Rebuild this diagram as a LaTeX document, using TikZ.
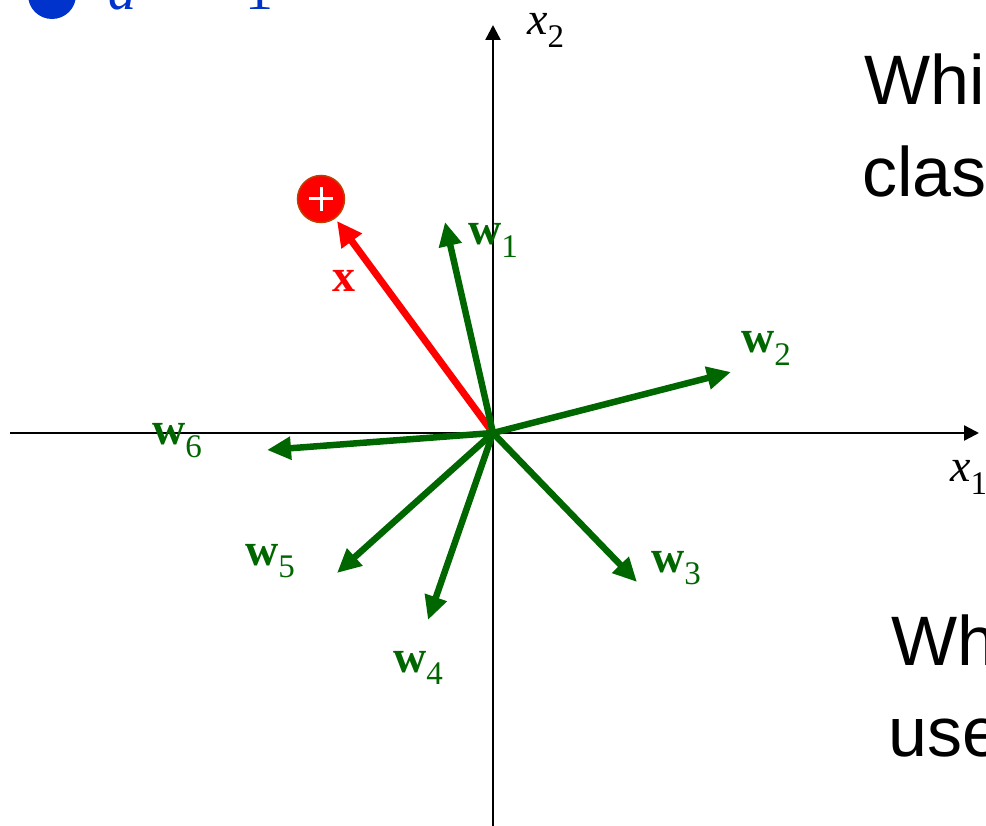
\documentclass[tikz,border=0pt]{standalone}
\usepackage{fontspec}
\setmainfont{Liberation Serif}
\newfontfamily\arialf{Liberation Sans}
\usetikzlibrary{arrows.meta}
\definecolor{vgreen}{RGB}{0,102,0}
\definecolor{vblue}{RGB}{0,51,204}
\definecolor{cborder}{RGB}{192,64,0}
\newcommand{\lsub}[1]{\raisebox{-0.27em}{\fontsize{33}{33}\selectfont #1}}
\begin{document}
\begin{tikzpicture}[x=1pt,y=-1pt,
  axis/.style={line width=2.4pt,black,-{Triangle[length=15pt,width=15pt]}},
  vec/.style={line width=6.5pt,vgreen,-{Triangle[length=24pt,width=22pt]}},
  redvec/.style={line width=7pt,red,-{Triangle[length=25pt,width=24pt]}},
  lab/.style={anchor=base west,inner sep=0pt,font=\fontsize{46}{46}\selectfont},
  glab/.style={lab,text=vgreen},
  big/.style={anchor=base west,inner sep=0pt,font=\arialf\fontsize{70}{84}\selectfont}]
\useasboundingbox (0,0) rectangle (986,826);
\clip (0,0) rectangle (986,826);
% top line
\fill[vblue] (52,-5) circle (24);
\node[anchor=base west,inner sep=0pt,text=vblue,font=\fontsize{56}{56}\selectfont] (aeq) at (108,10) {\textit{a} =};
\node[anchor=base east,inner sep=0pt,text=vblue,font=\fontsize{56}{56}\selectfont] (aone) at (274,10) {−1};
% axes
\coordinate (O) at (493,433);
\coordinate (xl) at (10,433);
\coordinate (xr) at (979,433);
\coordinate (yb) at (493,830);
\coordinate (yt) at (493,25);
\draw[axis] (xl) -- (xr);
\draw[axis] (yb) -- (yt);
\node[lab] (x2) at (527,35) {\textit{x}\lsub{2}};
\node[lab] (x1) at (950,482) {\textit{x}\lsub{1}};
% red vector
\coordinate (tx) at (337,221);
\draw[redvec] (O) -- (tx);
\node[lab,text=red] (xlab) at (332,292) {\textbf{x}};
\node[circle,fill=red,draw=cborder,line width=1.5pt,minimum size=47pt,inner sep=0pt] (plus) at (321,199) {};
\draw[white,line width=3pt] ([xshift=-12pt]plus.center) -- ([xshift=12pt]plus.center);
\draw[white,line width=3pt] ([yshift=-12pt]plus.center) -- ([yshift=12pt]plus.center);
% green vectors
\coordinate (t1) at (445,222);
\coordinate (t2) at (731,372);
\coordinate (t3) at (637,582);
\coordinate (t4) at (428,620);
\coordinate (t5) at (337,573);
\coordinate (t6) at (267,450);
\foreach \i in {1,...,6} {\draw[vec] (O) -- (t\i);}
\node[glab] (w1) at (468,245) {\textbf{w}\lsub{1}};
\node[glab] (w2) at (741,353) {\textbf{w}\lsub{2}};
\node[glab] (w3) at (651,572) {\textbf{w}\lsub{3}};
\node[glab] (w4) at (393,672) {\textbf{w}\lsub{4}};
\node[glab] (w5) at (245,565) {\textbf{w}\lsub{5}};
\node[glab] (w6) at (152,445) {\textbf{w}\lsub{6}};
% right text
\node[big] (t1a) at (864,105) {Whi};
\node[big] (t1b) at (862,197) {clas};
\node[big] (t2a) at (891,665) {Wh};
\node[big] (t2b) at (888,756) {use};
\end{tikzpicture}
\end{document}
